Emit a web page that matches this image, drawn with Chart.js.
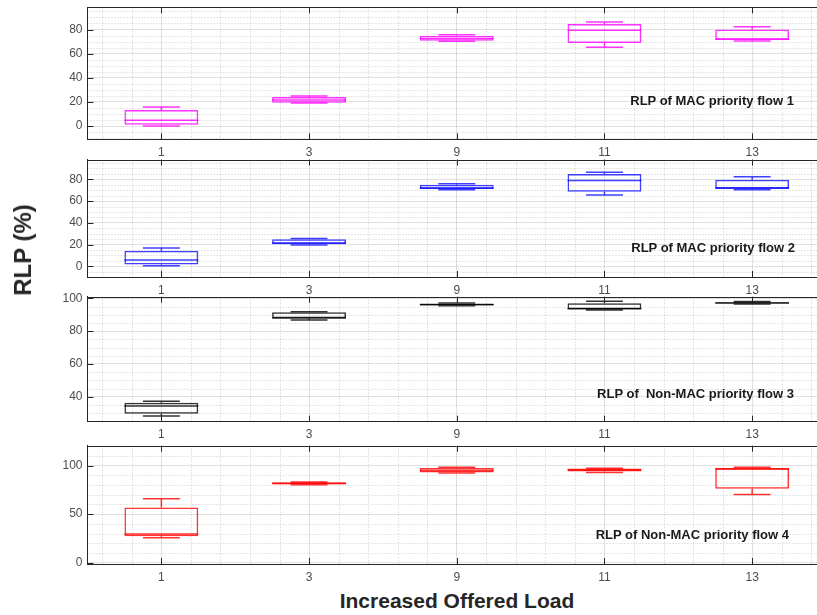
<!DOCTYPE html>
<html><head><meta charset="utf-8">
<script src="https://cdn.jsdelivr.net/npm/chart.js@4.4.1/dist/chart.umd.min.js"></script>
<style>
html,body{margin:0;padding:0;background:#fff;overflow:hidden;width:817px;height:615px;}
#wrap{position:relative;width:817px;height:615px;overflow:hidden;background:#fff;}
canvas{position:absolute;left:0;}
.note{position:absolute;font:bold 13px "Liberation Sans",Arial,sans-serif;color:#1a1a1a;white-space:pre;line-height:1;transform:translate(-100%,-50%);}
.axt{position:absolute;font-family:"Liberation Sans",Arial,sans-serif;font-weight:bold;color:#262626;white-space:pre;line-height:1;}
</style></head><body><div id="wrap"></div>
<script>
// ---- data ----
const categories = ['1', '3', '9', '11', '13'];
// five-number summaries per category: [min, q1, median, q3, max]
const flow1 = [[0, 1, 4.7, 13.3, 15.8], [19, 19.3, 21.5, 24, 24.8], [70.2, 70.7, 72.5, 74.9, 75.7], [65.2, 68.8, 79.3, 84.6, 86.2], [70.5, 71.6, 71.9, 79.9, 82.3]];
const flow2 = [[0.6, 1.6, 5.8, 14.3, 16.8], [19.6, 20.2, 21.5, 24.8, 25.7], [70.4, 71, 72, 75, 76], [65.6, 68.6, 79, 84.9, 86.4], [70.4, 71.1, 72.3, 79.6, 82.4]];
const flow3 = [[28.2, 29.7, 34.3, 36.4, 37.2], [86.8, 87.8, 88, 91.5, 91.8], [95.5, 95.9, 96.1, 96.9, 97.2], [92.9, 93.3, 93.6, 97, 98.2], [96.6, 96.8, 97.2, 97.6, 98]];
const flow4 = [[25.6, 27.3, 29.7, 57, 65.9], [80.2, 80.9, 81.5, 82.9, 83], [92.5, 92.8, 95, 97.6, 98.3], [92.8, 93.9, 95.5, 96.9, 97.2], [70.3, 76.1, 96.6, 97.6, 98.3]];
const flowLabels = ['RLP of MAC priority flow 1', 'RLP of MAC priority flow 2', 'RLP of  Non-MAC priority flow 3', 'RLP of Non-MAC priority flow 4'];
const yTicks12 = [0, 20, 40, 60, 80];
const yTicks3 = [40, 60, 80, 100];
const yTicks4 = [0, 50, 100];
const xTitle = 'Increased Offered Load';
const yTitle = 'RLP (%)';

// ---- layout / style ----
const panels = [
  {stats: flow1, ticks: yTicks12, top: 7.3, bottom: 139.3, ymin: -11, ymax: 98.4, minor: 5, color: 'rgba(255,0,255,0.8)', noteX: 794, noteY: 100},
  {stats: flow2, ticks: yTicks12, top: 159.5, bottom: 277, ymin: -9.8, ymax: 98.2, minor: 5, color: 'rgba(0,0,255,0.75)', noteX: 795, noteY: 247},
  {stats: flow3, ticks: yTicks3, top: 296.7, bottom: 421.7, ymin: 24.8, ymax: 101, minor: 5, color: 'rgba(0,0,0,0.8)', noteX: 794, noteY: 393},
  {stats: flow4, ticks: yTicks4, top: 445.7, bottom: 564, ymin: -1.3, ymax: 120.5, minor: 10, color: 'rgba(255,0,0,0.8)', noteX: 789, noteY: 534}
];
const CANVAS_W = 830, AXIS_LEFT = 87.5, RIGHT_PAD = 4;
const BOX_HALF = 0.25, CAP_HALF = 0.125;
const FONT = '"Liberation Sans", Arial, sans-serif';

function segments(stats) {
  const pts = [];
  const seg = (x0, y0, x1, y1) => { pts.push({x: x0, y: y0}, {x: x1, y: y1}, {x: x1, y: null}); };
  stats.forEach((s, i) => {
    const x = i + 1; const [mn, q1, md, q3, mx] = s;
    seg(x, q3, x, mx); seg(x, mn, x, q1);
    seg(x - CAP_HALF, mx, x + CAP_HALF, mx);
    seg(x - CAP_HALF, mn, x + CAP_HALF, mn);
    seg(x - BOX_HALF, md, x + BOX_HALF, md);
  });
  return pts;
}

const minorGrid = {
  id: 'minorGrid',
  beforeDatasetsDraw(chart) {
    const {ctx, chartArea: a, scales: {x, y}} = chart;
    const p = chart.options.plugins.minorGrid;
    ctx.save();
    ctx.beginPath(); ctx.rect(a.left, a.top, a.right - a.left, a.bottom - a.top); ctx.clip();
    ctx.strokeStyle = 'rgba(0,0,0,0.2)'; ctx.lineWidth = 1; ctx.setLineDash([1, 2]);
    for (let i = 3; i < 28; i++) {
      if (i % 5 === 0) continue;
      const px = Math.round(x.getPixelForValue(i / 5)) + 0.5;
      ctx.beginPath(); ctx.moveTo(px, a.top); ctx.lineTo(px, a.bottom); ctx.stroke();
    }
    const st = p.step;
    for (let v = Math.ceil(y.min / st) * st; v <= y.max; v += st) {
      if (p.major.includes(v)) continue;
      const py = Math.round(y.getPixelForValue(v)) + 0.5;
      ctx.beginPath(); ctx.moveTo(a.left, py); ctx.lineTo(a.right, py); ctx.stroke();
    }
    ctx.restore();
  }
};
const frame = {
  id: 'frame',
  afterDraw(chart) {
    const {ctx, chartArea: a, scales: {x, y}} = chart;
    ctx.save();
    ctx.strokeStyle = '#262626'; ctx.lineWidth = 1;
    const t = Math.round(a.top) + 0.5;
    ctx.beginPath(); ctx.moveTo(a.left, t); ctx.lineTo(a.right, t); ctx.stroke();
    x.ticks.forEach(tk => {
      const px = Math.round(x.getPixelForValue(tk.value)) + 0.5;
      ctx.beginPath(); ctx.moveTo(px, a.top); ctx.lineTo(px, a.top + 6);
      ctx.moveTo(px, a.bottom); ctx.lineTo(px, a.bottom - 6); ctx.stroke();
    });
    y.ticks.forEach(tk => {
      const py = Math.round(y.getPixelForValue(tk.value)) + 0.5;
      ctx.beginPath(); ctx.moveTo(a.left, py); ctx.lineTo(a.left + 6, py); ctx.stroke();
    });
    ctx.restore();
  }
};

const wrap = document.getElementById('wrap');
panels.forEach((p, idx) => {
  const cTop = Math.floor(p.top) - 16;
  const cH = Math.ceil(p.bottom) + 24 - cTop;
  const cv = document.createElement('canvas');
  cv.width = CANVAS_W; cv.height = cH;
  cv.style.top = cTop + 'px'; cv.style.width = CANVAS_W + 'px'; cv.style.height = cH + 'px';
  wrap.appendChild(cv);
  const xH = cH - (p.bottom - cTop);
  new Chart(cv, {
    type: 'bar',
    data: {
      datasets: [
        {type: 'bar', data: p.stats.map((s, i) => ({x: i + 1, y: [s[1], s[3]]})),
         backgroundColor: 'rgba(0,0,0,0)', borderColor: p.color, borderWidth: 1.5, borderSkipped: false,
         barPercentage: BOX_HALF * 2, categoryPercentage: 1.0},
        {type: 'line', data: segments(p.stats), borderColor: p.color, borderWidth: 1.5,
         pointRadius: 0, fill: false, tension: 0, spanGaps: false}
      ]
    },
    options: {
      responsive: false, animation: false, devicePixelRatio: 1,
      layout: {padding: {top: p.top - cTop, left: 0, right: RIGHT_PAD, bottom: 0}},
      plugins: {legend: {display: false}, tooltip: {enabled: false}, minorGrid: {step: p.minor, major: p.ticks}},
      scales: {
        x: {type: 'linear', min: 0.5, max: 5.5, offset: false,
            grid: {color: 'rgba(0,0,0,0.12)', drawTicks: false, offset: false},
            border: {color: '#262626', width: 1},
            afterBuildTicks: s => { s.ticks = categories.map((c, i) => ({value: i + 1})); },
            afterFit: s => { s.height = xH; },
            ticks: {padding: 6, color: '#4d4d4d', font: {family: FONT, size: 12}, maxRotation: 0, autoSkip: false,
                    callback: v => categories[v - 1]}},
        y: {type: 'linear', min: p.ymin, max: p.ymax,
            grid: {color: 'rgba(0,0,0,0.12)', drawTicks: false},
            border: {color: '#262626', width: 1},
            afterBuildTicks: s => { s.ticks = p.ticks.map(v => ({value: v})); },
            afterFit: s => { s.width = AXIS_LEFT; },
            ticks: {padding: 5, color: '#4d4d4d', font: {family: FONT, size: 12}}}
      }
    },
    plugins: [minorGrid, frame]
  });
  const n = document.createElement('div');
  n.className = 'note'; n.textContent = flowLabels[idx];
  n.style.left = p.noteX + 'px'; n.style.top = p.noteY + 'px';
  wrap.appendChild(n);
});
const xt = document.createElement('div');
xt.className = 'axt'; xt.textContent = xTitle;
xt.style.fontSize = '21px'; xt.style.left = '457px'; xt.style.top = '600px';
xt.style.transform = 'translate(-50%,-50%)';
wrap.appendChild(xt);
const yt = document.createElement('div');
yt.className = 'axt'; yt.textContent = yTitle;
yt.style.fontSize = '24px'; yt.style.left = '23px'; yt.style.top = '250px';
yt.style.transform = 'translate(-50%,-50%) rotate(-90deg)';
wrap.appendChild(yt);
</script></body></html>
